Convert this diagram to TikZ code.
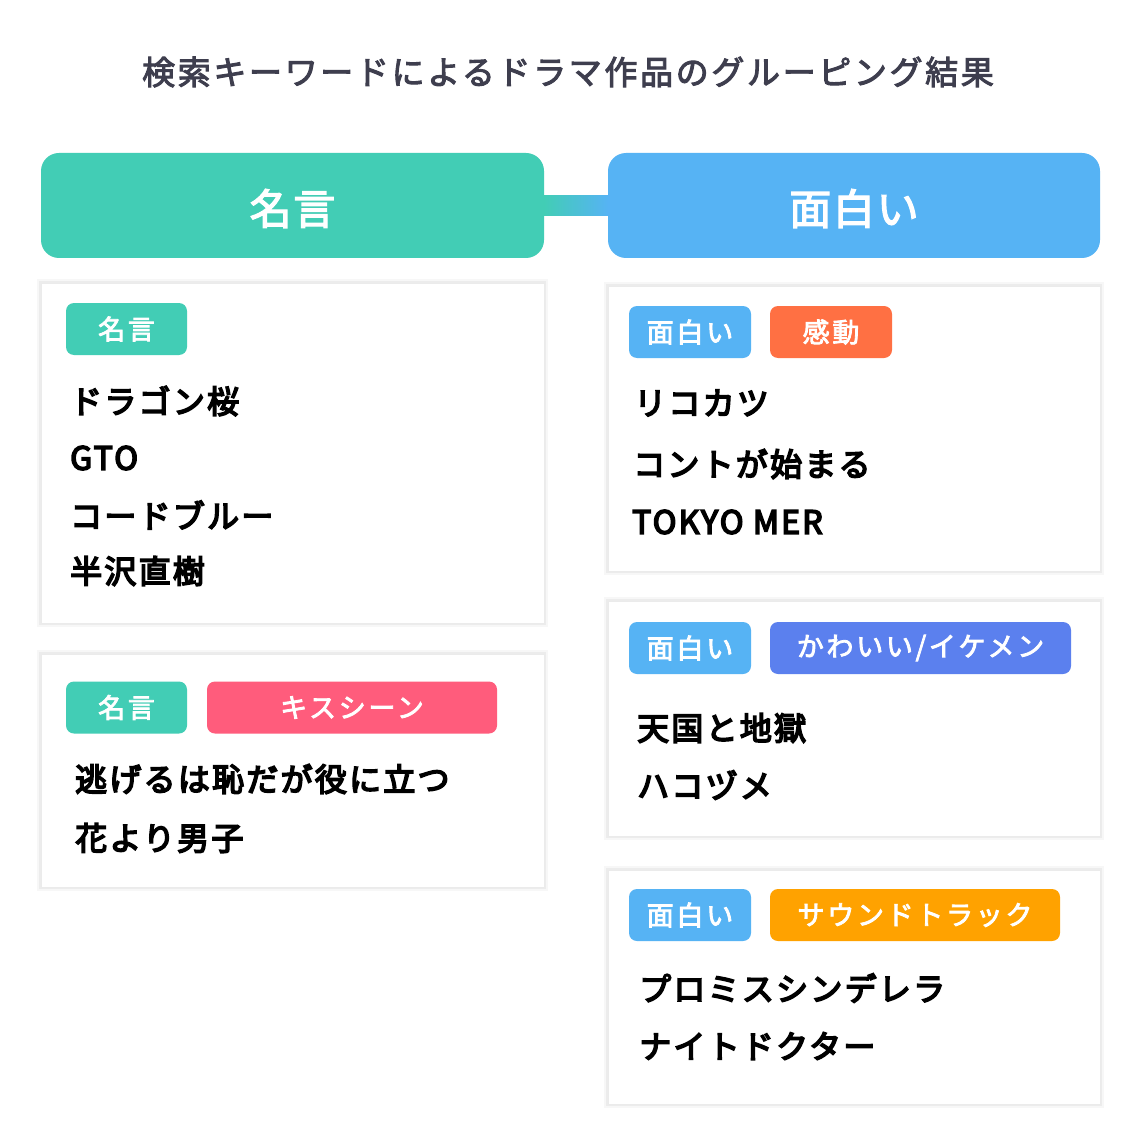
\documentclass[tikz,border=0pt]{standalone}
\usepackage{fontspec}
\setmainfont{Noto Sans CJK JP}
\newfontfamily\jpmed[FakeBold=3]{Noto Sans CJK JP}
\newfontfamily\jpsemi[FakeBold=5]{Noto Sans CJK JP}
\definecolor{mgreen}{HTML}{42CDB5}
\definecolor{mblue}{HTML}{56B3F4}
\definecolor{mred}{HTML}{FF7043}
\definecolor{mpink}{HTML}{FF5C7C}
\definecolor{mroyal}{HTML}{5B80EE}
\definecolor{morange}{HTML}{FFA200}
\definecolor{mtitle}{HTML}{3E3E4E}
\newcommand\titlefnt{\jpmed\fontsize{33}{40}\selectfont\addfontfeatures{LetterSpace=8}}
\newcommand\hdrfnt{\jpmed\fontsize{42}{50}\selectfont\addfontfeatures{LetterSpace=4}}
\newcommand\tagfnt{\jpmed\fontsize{27}{32}\selectfont\addfontfeatures{LetterSpace=10}}
\newcommand\itemfnt{\jpsemi\fontsize{32}{38}\selectfont\addfontfeatures{LetterSpace=7}}
\begin{document}
\begin{tikzpicture}[x=1pt,y=1pt,
  hdr/.style={rounded corners=18pt, minimum height=105pt, text=white, inner sep=0},
  hdrtext/.style={text=white, font=\hdrfnt, inner sep=0},
  card/.style={fill=white, draw=black!8, line width=0.6pt, inner sep=0,
    preaction={draw=black, draw opacity=0.03, line width=8pt},
    preaction={draw=black, draw opacity=0.045, line width=4pt}},
  tagbox/.style={rounded corners=8pt, minimum height=52pt, inner sep=0, text=white, font=\tagfnt},
  item/.style={anchor=west, inner sep=0, font=\itemfnt, text=black}
]
\useasboundingbox[fill=white] (0,0) rectangle (1139,-1139);

\node[font=\titlefnt, text=mtitle] (title) at (568,-72) {検索キーワードによるドラマ作品のグルーピング結果};

% headers
\node[hdr, fill=mgreen, minimum width=503pt] (hL) at (292.5,-205.5) {};
\node[hdr, fill=mblue, minimum width=492pt] (hR) at (854,-205.5) {};
\node[hdrtext] (hLt) at ([yshift=-3pt]hL.center) {名言};
\node[hdrtext] (hRt) at ([yshift=-3pt]hR.center) {面白い};
\shade[left color=mgreen, right color=mblue] ([yshift=10pt]hL.east) rectangle ([yshift=-10pt]hR.west);

% left cards
\node[card, minimum width=503pt, minimum height=340pt] (cL1) at (292.5,-453) {};
\node[tagbox, fill=mgreen, minimum width=121pt] (tL1a) at (126.5,-329) {名言};
\node[item] (iL1a) at (70,-401) {ドラゴン桜};
\node[item] (iL1b) at (70,-458) {GTO};
\node[item] (iL1c) at (70,-515) {コードブルー};
\node[item] (iL1d) at (70,-571) {半沢直樹};

\node[card, minimum width=503pt, minimum height=233pt] (cL2) at (292.5,-770.5) {};
\node[tagbox, fill=mgreen, minimum width=121pt] (tL2a) at (126.5,-707.5) {名言};
\node[tagbox, fill=mpink, minimum width=290pt] (tL2b) at (352,-707.5) {キスシーン};
\node[item] (iL2a) at (75,-779) {逃げるは恥だが役に立つ};
\node[item] (iL2b) at (75,-838) {花より男子};

% right cards
\node[card, minimum width=492pt, minimum height=285pt] (cR1) at (854,-428.5) {};
\node[tagbox, fill=mblue, minimum width=122pt] (tR1a) at (690,-332) {面白い};
\node[tagbox, fill=mred, minimum width=122pt] (tR1b) at (831,-332) {感動};
\node[item] (iR1a) at (634,-403) {リコカツ};
\node[item] (iR1b) at (633,-464) {コントが始まる};
\node[item] (iR1c) at (632,-522) {TOKYO MER};

\node[card, minimum width=492pt, minimum height=235pt] (cR2) at (854,-718.5) {};
\node[tagbox, fill=mblue, minimum width=122pt] (tR2a) at (690,-648) {面白い};
\node[tagbox, fill=mroyal, minimum width=301pt] (tR2b) at (920.5,-648) {かわいい/イケメン};
\node[item] (iR2a) at (637,-728) {天国と地獄};
\node[item] (iR2b) at (637,-785) {ハコヅメ};

\node[card, minimum width=492pt, minimum height=234pt] (cR3) at (854,-987) {};
\node[tagbox, fill=mblue, minimum width=122pt] (tR3a) at (690,-915) {面白い};
\node[tagbox, fill=morange, minimum width=290pt] (tR3b) at (915,-915) {サウンドトラック};
\node[item] (iR3a) at (639,-988) {プロミスシンデレラ};
\node[item] (iR3b) at (639,-1046) {ナイトドクター};
\end{tikzpicture}
\end{document}
